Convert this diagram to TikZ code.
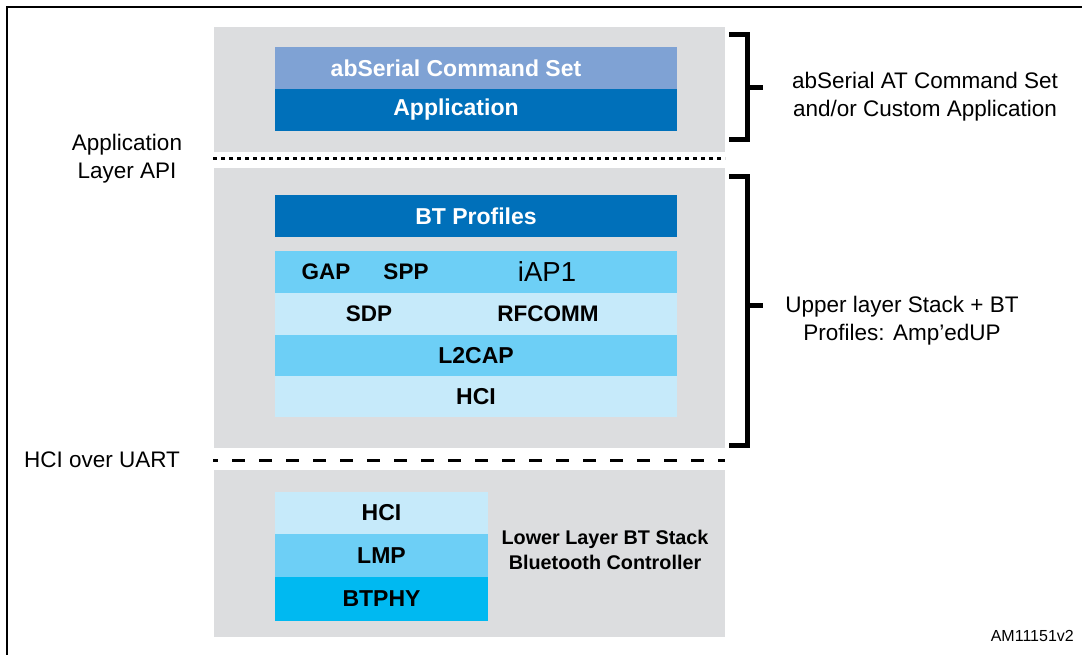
\documentclass[tikz,border=0pt]{standalone}
\usepackage{fontspec}
\setmainfont{Liberation Sans}
\definecolor{layergray}{HTML}{DCDDDF}
\definecolor{serialblue}{HTML}{7FA2D4}
\definecolor{darkblue}{HTML}{0070BA}
\definecolor{lightblue}{HTML}{C6EAFA}
\definecolor{midblue}{HTML}{6DCFF6}
\definecolor{phyblue}{HTML}{00B9F1}
\tikzset{
  layerbox/.style={fill=layergray, inner sep=0pt, minimum width=511pt},
  stackbox/.style={inner sep=0pt, minimum width=402pt, minimum height=42pt,
    font=\fontsize{23}{26}\selectfont\bfseries},
  ctrlbox/.style={stackbox, minimum width=213pt},
  lbl/.style={inner sep=0pt, font=\fontsize{22.5}{26}\selectfont\bfseries},
  note/.style={inner sep=0pt, align=center, font=\fontsize{22.5}{28}\selectfont},
  bracket/.style={line width=5pt},
}
\begin{document}
\begin{tikzpicture}[x=1pt, y=-1pt]
    \useasboundingbox (0,0) rectangle (1082,655);
    \draw[line width=2pt] (7,655) -- (7,7) -- (1082,7);

    % layers
    \node[layerbox, minimum height=125pt] (top) at (469.5,89.5) {};
    \node[layerbox, minimum height=280pt] (mid) at (469.5,308) {};
    \node[layerbox, minimum height=167pt] (low) at (469.5,553.5) {};

    % application layer
    \node[stackbox, fill=serialblue] (serial) at (476,68) {};
    \node[stackbox, fill=darkblue] (app) at (476,110) {};
    \node[lbl, text=white, font=\fontsize{23}{26}\selectfont\bfseries] (serialtxt) at ([xshift=-20pt]serial.center) {abSerial Command Set};
    \node[lbl, text=white, font=\fontsize{23}{26}\selectfont\bfseries] (apptxt) at ([xshift=-20pt]app.center) {Application};

    % upper stack
    \node[stackbox, fill=darkblue, text=white] (prof) at (476,216) {BT Profiles};
    \node[stackbox, fill=midblue] (row1) at (476,272) {};
    \node[stackbox, fill=lightblue] (row2) at (476,314) {};
    \node[stackbox, fill=midblue] (l2cap) at (476,355.5) {L2CAP};
    \node[stackbox, fill=lightblue, minimum height=41pt] (hciup) at (476,396.5) {HCI};
    \node[lbl] (gap) at (326,272) {GAP};
    \node[lbl] (spp) at (406,272) {SPP};
    \node[inner sep=0pt, font=\fontsize{27.5}{30}\selectfont] (iap) at (547,272) {iAP1};
    \node[lbl] (sdp) at (369,314) {SDP};
    \node[lbl] (rfcomm) at (548,314) {RFCOMM};

    % controller
    \node[ctrlbox, fill=lightblue] (hcilow) at (381.5,513) {HCI};
    \node[ctrlbox, fill=midblue, minimum height=43pt] (lmp) at (381.5,555.5) {LMP};
    \node[ctrlbox, fill=phyblue, minimum height=44pt] (phy) at (381.5,599) {BTPHY};
    \node[lbl, align=center, font=\fontsize{19.8}{25}\selectfont\bfseries] (ctrl) at (605,550)
        {Lower Layer BT Stack\\Bluetooth Controller};

    % interfaces
    \coordinate (apiL) at (213,159);
    \coordinate (apiR) at (725,159);
    \coordinate (uartL) at (213,460);
    \coordinate (uartR) at (725,460);
    \draw[line width=3pt, dash pattern=on 4pt off 4pt] (apiL) -- (apiR);
    \draw[line width=3pt, dash pattern=on 13pt off 14pt, dash phase=8pt] (uartL) -- (uartR);
    \node[note] (api) at (127,159) {Application\\Layer API};
    \node[note] (uart) at (102,460) {HCI over UART};

    % brackets
    \draw[bracket] (729,35) -- (747,35) -- (747,140) -- (729,140);
    \draw[bracket] (747,88) -- (763,88);
    \draw[bracket] (729,177) -- (747,177) -- (747,445) -- (729,445);
    \draw[bracket] (747,305) -- (763,305);
    \node[note] (appnote) at (925,97) {abSerial AT Command Set\\and/or Custom Application};
    \node[note] (stacknote) at (902,321) {Upper layer Stack + BT\\Profiles: Amp’edUP};

    \node[inner sep=0pt, anchor=east, font=\fontsize{16}{18}\selectfont] (ref) at (1074,636) {AM11151v2};
\end{tikzpicture}
\end{document}
